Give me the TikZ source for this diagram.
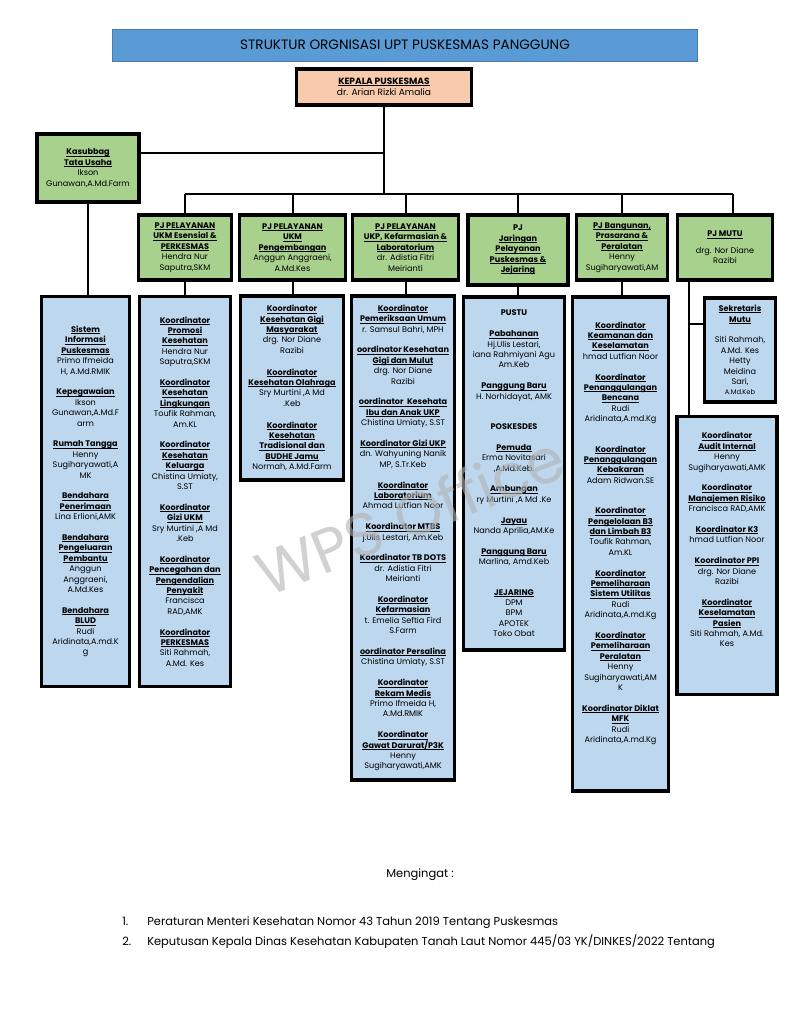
\documentclass[tikz,border=0pt]{standalone}
\usepackage{fontspec}
\setmainfont{Poppins}
\usepackage{tikz}
\usetikzlibrary{positioning}
\usetikzlibrary{calc}
\definecolor{judul}{HTML}{5B9BD5}
\definecolor{kepala}{HTML}{F8CBAD}
\definecolor{hijau}{HTML}{A9D18E}
\definecolor{biru}{HTML}{BDD7EE}
\newcommand{\ud}[1]{\setbox0\hbox{\textbf{#1}}\rlap{\rule[-1.1pt]{\wd0}{0.45pt}}\box0}
\newcommand{\kecil}{\fontsize{6.1}{7.8}\selectfont}
\tikzstyle{garis}=
[line width=1.5pt]
\tikzstyle{kotak}=
[rectangle,
draw=black,
line width=2.6pt,
inner sep=0pt,
align=center,
font=\kecil]
\tikzstyle{catatan}=
[anchor=base west,
inner sep=0pt,
font=\fontsize{8.6}{10}\selectfont]
\tikzset{ukuran/.style 2 args={minimum width=#1*0.75pt, minimum height=#2*0.75pt}}

\begin{document}
\begin{tikzpicture}[x=0.75pt,y=-0.75pt]
\useasboundingbox (0,0) rectangle (794,1027);
\node (T)
[rectangle,
draw=judul!80!black,
line width=0.6pt,
fill=judul,
ukuran={585}{32},
font=\fontsize{10.2}{12}\selectfont]
at (405,45)
{STRUKTUR ORGNISASI UPT PUSKESMAS PANGGUNG};
\node (K)
[kotak,
fill=kepala,
ukuran={175}{36},
font=\fontsize{6.8}{8.4}\selectfont]
at (384,87)
{\ud{KEPALA PUSKESMAS}\\ dr. Arian Rizki Amalia};
\node (TU)
[kotak,
fill=hijau,
ukuran={102}{68}]
at (88,168)
{\ud{Kasubbag}\\ \ud{Tata Usaha}\\ Ikson\\ Gunawan,A.Md.Farm};
\node (P_1)
[kotak,
fill=hijau,
ukuran={93}{65}]
at (185,247.5)
{\ud{PJ PELAYANAN}\\ \ud{UKM Esensial \&}\\ \ud{PERKESMAS}\\ Hendra Nur\\ Saputra,SKM};
\node (P_2)
[kotak,
fill=hijau,
ukuran={106}{65}]
at (292.5,247.5)
{\ud{PJ PELAYANAN}\\ \ud{UKM}\\ \ud{Pengembangan}\\ Anggun Anggraeni,\\ A.Md.Kes};
\node (P_3)
[kotak,
fill=hijau,
ukuran={106}{65}]
at (405.5,247.5)
{\ud{PJ PELAYANAN}\\ \ud{UKP, Kefarmasian \&}\\ \ud{Laboratorium}\\ dr. Adistia Fitri\\ Meirianti};
\node (P_4)
[kotak,
fill=hijau,
line width=3.2pt,
ukuran={100}{70}]
at (518,250)
{\textbf{PJ}\\ \ud{Jaringan}\\ \ud{Pelayanan}\\ \ud{Puskesmas \&}\\ \ud{Jejaring}};
\node (P_5)
[kotak,
fill=hijau,
ukuran={91}{65}]
at (622,247.5)
{\ud{PJ Bangunan,}\\ \ud{Prasarana \&}\\ \ud{Peralatan}\\ Henny\\ Sugiharyawati,AM};
\node (P_6)
[kotak,
fill=hijau,
ukuran={95}{65}]
at (725,247.5)
{\ud{PJ MUTU}\\[4.5pt] drg. Nor Diane\\ Razibi};
% daftar koordinator
\node (L_1)
[kotak,
fill=biru,
ukuran={88}{389.5}]
at (85.5,491.5)
{\ud{Sistem}\\ \ud{Informasi}\\ \ud{Puskesmas}\\ Primo Ifmeida\\ H, A.Md.RMIK\\[7.8pt]
\ud{Kepegawaian}\\ Ikson\\ Gunawan,A.Md.F\\ arm\\[7.8pt]
\ud{Rumah Tangga}\\ Henny\\ Sugiharyawati,A\\ MK\\[7.8pt]
\ud{Bendahara}\\ \ud{Penerimaan}\\ Lina Erlioni,AMK\\[7.8pt]
\ud{Bendahara}\\ \ud{Pengeluaran}\\ \ud{Pembantu}\\ Anggun\\ Anggraeni,\\ A.Md.Kes\\[7.8pt]
\ud{Bendahara}\\ \ud{BLUD}\\ Rudi\\ Aridinata,A.md.K\\ g};
\node (L_2)
[kotak,
fill=biru,
ukuran={91}{389.5}]
at (185,491.5)
{\ud{Koordinator}\\ \ud{Promosi}\\ \ud{Kesehatan}\\ Hendra Nur\\ Saputra,SKM\\[7.8pt]
\ud{Koordinator}\\ \ud{Kesehatan}\\ \ud{Lingkungan}\\ Toufik Rahman,\\ Am.KL\\[7.8pt]
\ud{Koordinator}\\ \ud{Kesehatan}\\ \ud{Keluarga}\\ Chistina Umiaty,\\ S.ST\\[7.8pt]
\ud{Koordinator}\\ \ud{Gizi UKM}\\ Sry Murtini ,A Md\\ .Keb\\[7.8pt]
\ud{Koordinator}\\ \ud{Pencegahan dan}\\ \ud{Pengendalian}\\ \ud{Penyakit}\\ Francisca\\ RAD,AMK\\[7.8pt]
\ud{Koordinator}\\ \ud{PERKESMAS}\\ Siti Rahmah,\\ A.Md. Kes};
\node (L_3)
[kotak,
fill=biru,
ukuran={103}{184}]
at (292,388)
{\ud{Koordinator}\\ \ud{Kesehatan Gigi}\\ \ud{Masyarakat}\\ drg. Nor Diane\\ Razibi\\[8.5pt]
\ud{Koordinator}\\ \ud{Kesehatan Olahraga}\\ Sry Murtini ,A Md\\ .Keb\\[8.5pt]
\ud{Koordinator}\\ \ud{Kesehatan}\\ \ud{Tradisional dan}\\ \ud{BUDHE Jamu}\\ Normah, A.Md.Farm};
\node (L_4)
[kotak,
fill=biru,
ukuran={103}{484}]
at (403,538)
{\ud{Koordinator}\\ \ud{Pemeriksaan Umum}\\ r. Samsul Bahri, MPH\\[7.8pt]
\ud{oordinator Kesehatan}\\ \ud{Gigi dan Mulut}\\ drg. Nor Diane\\ Razibi\\[7.8pt]
\ud{oordinator\ \ Kesehata}\\ \ud{Ibu dan Anak UKP}\\ Chistina Umiaty, S.ST\\[7.8pt]
\ud{Koordinator Gizi UKP}\\ dn. Wahyuning Nanik\\ MP, S.Tr.Keb\\[7.8pt]
\ud{Koordinator}\\ \ud{Laboratorium}\\ Ahmad Lutfian Noor\\[7.8pt]
\ud{Koordinator MTBS}\\ j.Ulis Lestari, Am.Keb\\[7.8pt]
\ud{Koordinator TB DOTS}\\ dr. Adistia Fitri\\ Meirianti\\[7.8pt]
\ud{Koordinator}\\ \ud{Kefarmasian}\\ t. Emelia Seftia Fird\\ S.Farm\\[7.8pt]
\ud{oordinator Persalina}\\ Chistina Umiaty, S.ST\\[7.8pt]
\ud{Koordinator}\\ \ud{Rekam Medis}\\ Primo Ifmeida H,\\ A.Md.RMIK\\[7.8pt]
\ud{Koordinator}\\ \ud{Gawat Darurat/P3K}\\ Henny\\ Sugiharyawati,AMK};
\node (L_5)
[kotak,
fill=biru,
ukuran={101}{353}]
at (514,473.5)
{\textbf{PUSTU}\\[7.8pt]
\ud{Pabahanan}\\ Hj.Ulis Lestari,\\ iana Rahmiyani Agu\\ Am.Keb\\[7.8pt]
\ud{Panggung Baru}\\ H. Norhidayat, AMK\\[15pt]
\textbf{POSKESDES}\\[7.8pt]
\ud{Pemuda}\\ Erma Novitasari\\ ,A.Md.Keb.\\[7.8pt]
\ud{Ambungan}\\ ry Murtini ,A Md .Ke\\[7.8pt]
\ud{Jayau}\\ Nanda Aprilia,AM.Ke\\[7.8pt]
\ud{Panggung Baru}\\ Marlina, Amd.Keb\\[15pt]
\ud{JEJARING}\\ DPM\\ BPM\\ APOTEK\\ Toko Obat};
\node (L_6)
[kotak,
fill=biru,
ukuran={95.5}{494}]
at (620.5,544)
{\ud{Koordinator}\\ \ud{Keamanan dan}\\ \ud{Keselamatan}\\ hmad Lutfian Noor\\[7.8pt]
\ud{Koordinator}\\ \ud{Penanggulangan}\\ \ud{Bencana}\\ Rudi\\ Aridinata,A.md.Kg\\[15pt]
\ud{Koordinator}\\ \ud{Penanggulangan}\\ \ud{Kebakaran}\\ Adam Ridwan.SE\\[15pt]
\ud{Koordinator}\\ \ud{Pengelolaan B3}\\ \ud{dan Limbah B3}\\ Toufik Rahman,\\ Am.KL\\[7.8pt]
\ud{Koordinator}\\ \ud{Pemeliharaan}\\ \ud{Sistem Utilitas}\\ Rudi\\ Aridinata,A.md.Kg\\[7.8pt]
\ud{Koordinator}\\ \ud{Pemeliharaan}\\ \ud{Peralatan}\\ Henny\\ Sugiharyawati,AM\\ K\\[7.8pt]
\ud{Koordinator Diklat}\\ \ud{MFK}\\ Rudi\\ Aridinata,A.md.Kg\\[10pt]};
\node (S)
[kotak,
fill=biru,
ukuran={71}{104}]
at (740,350)
{\ud{Sekretaris}\\ \ud{Mutu}\\[7.8pt]
Siti Rahmah,\\ A.Md. Kes\\ Hetty\\ Meidina\\ Sari,\\ {\fontsize{5}{6}\selectfont A.Md.Keb}};
\node (M)
[kotak,
fill=biru,
ukuran={100}{278}]
at (727,555.5)
{\ud{Koordinator}\\ \ud{Audit Internal}\\ Henny\\ Sugiharyawati,AMK\\[7.8pt]
\ud{Koordinator}\\ \ud{Manajemen Risiko}\\ Francisca RAD,AMK\\[7.8pt]
\ud{Koordinator K3}\\ hmad Lutfian Noor\\[7.8pt]
\ud{Koordinator PPI}\\ drg. Nor Diane\\ Razibi\\[7.8pt]
\ud{Koordinator}\\ \ud{Keselamatan}\\ \ud{Pasien}\\ Siti Rahmah, A.Md.\\ Kes\\[16pt]};
% garis
\coordinate (J) at (K.south |- 0,194);
\coordinate (J_6) at (733,194);
\draw[garis](K.south)--(J);
\draw[garis](TU.east |- 0,153)--(K.south |- 0,153);
\draw[garis](P_1.north |- J)--(J_6);
\draw[garis](P_1.north |- J)--(P_1.north);
\draw[garis](P_2.north |- J)--(P_2.north);
\draw[garis](P_3.north |- J)--(P_3.north);
\draw[garis](P_4.north |- J)--(P_4.north);
\draw[garis](P_5.north |- J)--(P_5.north);
\draw[garis](J_6)--(J_6 |- P_6.north);
\draw[garis](TU.south)--(TU.south |- L_1.north);
\draw[garis](P_1.south)--(P_1.south |- L_2.north);
\draw[garis](P_2.south)--(P_2.south |- L_3.north);
\draw[garis](P_3.south)--(P_3.south |- L_4.north);
\draw[garis](P_4.south)--(P_4.south |- L_5.north);
\draw[garis](P_5.south)--(P_5.south |- L_6.north);
\draw[garis](689,0 |- P_6.south)--(689,0 |- M.north);
\draw[garis](689,324)--(S.west |- 0,324);
% catatan
\node (W)
[rotate=22,
text=black!30,
opacity=0.6,
font=\fontsize{46}{46}\selectfont]
at (410,515)
{WPS Office};
\node (N)
[font=\fontsize{8.6}{10}\selectfont]
at (420,875)
{Mengingat :};
\node (N_1) [catatan] at (122,925) {1.};
\node (R_1) [catatan] at (147,925)
{Peraturan Menteri Kesehatan Nomor 43 Tahun 2019 Tentang Puskesmas};
\node (N_2) [catatan] at (122,945) {2.};
\node (R_2) [catatan] at (147,945)
{Keputusan Kepala Dinas Kesehatan Kabupaten Tanah Laut Nomor 445/03 YK/DINKES/2022 Tentang};
\end{tikzpicture}
\end{document}
